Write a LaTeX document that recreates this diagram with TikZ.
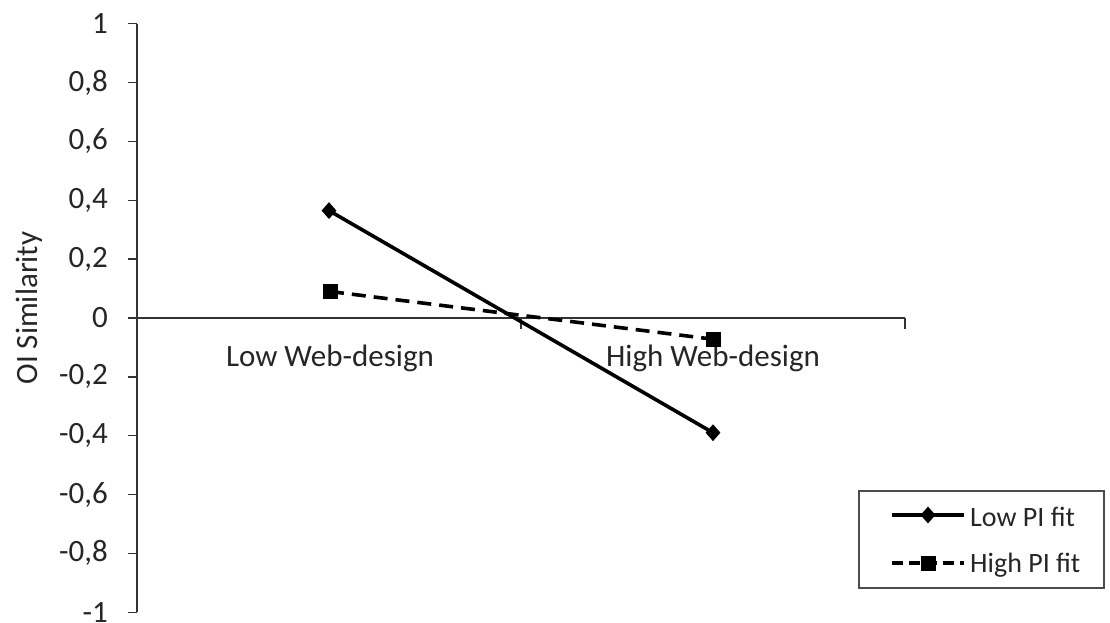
\documentclass[tikz,border=0pt]{standalone}
\usepackage{fontspec}
\setmainfont{Carlito}
\usetikzlibrary{shapes.geometric}
\tikzset{
  axisline/.style={draw=black!80, line width=1.4pt},
  ticklab/.style={anchor=east, font=\fontsize{31}{36}\selectfont, text=black!85, inner sep=0pt},
  catlab/.style={font=\fontsize{31}{36}\selectfont, text=black!85, inner sep=0pt},
  lowfit/.style={draw=black, line width=3.6pt},
  highfit/.style={draw=black, line width=3.6pt, dash pattern=on 14pt off 8pt},
  dmark/.style={diamond, fill=black, inner sep=0pt, minimum width=15pt, minimum height=17pt},
  smark/.style={rectangle, fill=black, inner sep=0pt, minimum size=15pt},
  legtext/.style={anchor=west, font=\fontsize{28}{33}\selectfont, text=black!85, inner sep=0pt},
}
\begin{document}
\begin{tikzpicture}[x=1pt, y=-1pt]
\useasboundingbox (0,0) rectangle (1110,623);
% value v sits at y = 318 - 294.2 v
% vertical axis with ticks and labels
\coordinate (ytop) at (137,23.8);
\coordinate (ybot) at (137,612.2);
\draw[axisline] (ytop) -- (ybot);
\foreach \v/\lab in {1/1, 0.8/{0,8}, 0.6/{0,6}, 0.4/{0,4}, 0.2/{0,2}, 0/0, -0.2/{-0,2}, -0.4/{-0,4}, -0.6/{-0,6}, -0.8/{-0,8}, -1/-1}{
  \draw[axisline] (128,318-294.2*\v) -- (137,318-294.2*\v);
  \node[ticklab] at (108,318-294.2*\v) {\lab};
}
% horizontal axis at zero with category ticks
\coordinate (xl) at (137,318);
\coordinate (xr) at (905,318);
\draw[axisline] (xl) -- (xr);
\draw[axisline] (521,318) -- (521,329);
\draw[axisline] (905,318) -- (905,329);
\node[catlab] (cl) at (330,358) {Low Web-design};
\node[catlab] (ch) at (713,358) {High Web-design};
% axis title
\node[catlab, rotate=90] (ytitle) at (29,308) {OI Similarity};
% series
\coordinate (a1) at (329,210.6);
\coordinate (a2) at (713,432.7);
\coordinate (b1) at (330,291.5);
\coordinate (b2) at (713,339.2);
\draw[lowfit] (a1) -- (a2);
\draw[highfit] (b1) -- (b2);
\node[dmark] (ma1) at (a1) {};
\node[dmark] (ma2) at (a2) {};
\node[smark] (mb1) at (b1) {};
\node[smark] (mb2) at (b2) {};
% legend
\draw[draw=black!70, line width=1.2pt] (859,491) rectangle (1104,588);
\coordinate (l1a) at (892,515);
\coordinate (l1b) at (964,515);
\coordinate (l2a) at (892,563);
\coordinate (l2b) at (964,563);
\draw[lowfit] (l1a) -- (l1b);
\draw[highfit, dash pattern=on 11pt off 6pt, dash phase=0pt] (l2a) -- (l2b);
\node[dmark] (lm1) at (928,515) {};
\node[smark] (lm2) at (928,563) {};
\node[legtext] (lt1) at (970,517) {Low PI fit};
\node[legtext] (lt2) at (970,565) {High PI fit};
\end{tikzpicture}
\end{document}
